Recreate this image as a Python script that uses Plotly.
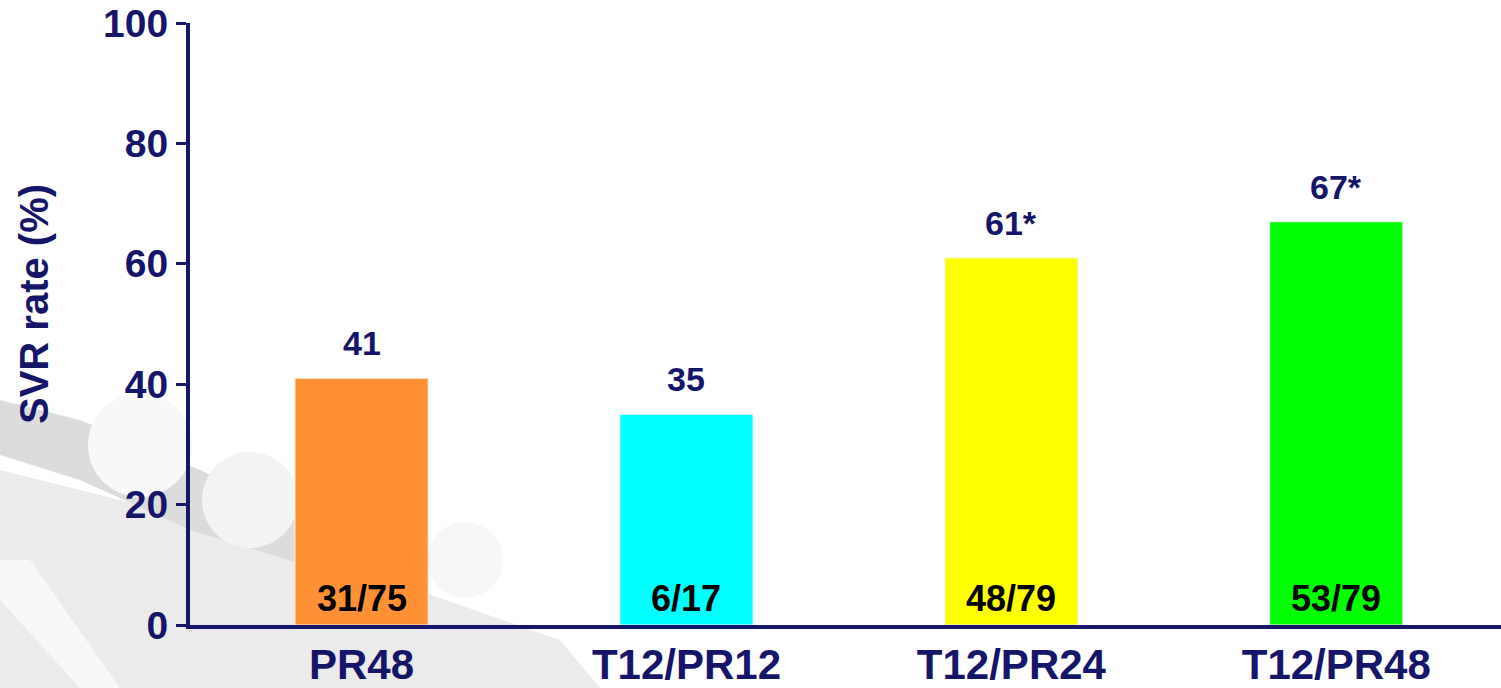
import plotly.graph_objects as go

# Treatment arms and SVR outcomes
arms = ["PR48", "T12/PR12", "T12/PR24", "T12/PR48"]
svr_rate = [41, 35, 61, 67]
rate_labels = ["41", "35", "61*", "67*"]
responders = ["31/75", "6/17", "48/79", "53/79"]
bar_colors = ["#FF9033", "#00FFFF", "#FFFF00", "#00FF00"]
y_ticks = [0, 20, 40, 60, 80, 100]

NAVY = "#15156A"
FONT = "Arial, Liberation Sans, sans-serif"

W, H = 1501, 688
ML, MR, MT, MB = 190, 0, 23, 63
PW, PH = W - ML - MR, H - MT - MB


def px(x, y):
    """Pixel position on the page -> paper coordinates."""
    return (x - ML) / PW, (H - MB - y) / PH


def poly(points):
    pts = [px(x, y) for x, y in points]
    return "M " + " L ".join(f"{a:.4f},{b:.4f}" for a, b in pts) + " Z"


fig = go.Figure()

fig.add_trace(go.Bar(
    x=arms,
    y=svr_rate,
    width=0.41,
    marker=dict(color=bar_colors, line=dict(color="#F4F4F4", width=1)),
    hoverinfo="x+y",
))

annotations = []
for arm, rate, lab, frac in zip(arms, svr_rate, rate_labels, responders):
    annotations.append(dict(
        x=arm, y=rate, xref="x", yref="y", text=f"<b>{lab}</b>",
        showarrow=False, yanchor="bottom", yshift=14,
        font=dict(family=FONT, size=34, color=NAVY),
    ))
    annotations.append(dict(
        x=arm, y=0, xref="x", yref="y", text=f"<b>{frac}</b>",
        showarrow=False, yanchor="bottom", yshift=4,
        font=dict(family=FONT, size=36, color="#000000"),
    ))

# y-axis title, placed as a rotated label left of the tick labels
tx, ty = px(34, 304)
annotations.append(dict(
    x=tx, y=ty, xref="paper", yref="paper", text="<b>SVR rate (%)</b>",
    textangle=-90, showarrow=False, xanchor="center", yanchor="middle",
    font=dict(family=FONT, size=40, color=NAVY),
))

# soft grey backdrop artwork in the lower-left corner
backdrop = [
    dict(points=[(0, 470), (120, 500), (330, 560), (560, 640), (600, 688), (0, 688)],
         color="#EBEBEB"),
    dict(points=[(0, 400), (80, 420), (200, 470), (305, 520), (305, 565), (190, 530),
                 (80, 480), (0, 455)], color="#DCDCDC"),
    dict(points=[(0, 560), (30, 560), (120, 688), (80, 688), (0, 600)], color="#F8F8F8"),
]
shapes = []
for b in backdrop:
    shapes.append(dict(type="path", path=poly(b["points"]), xref="paper", yref="paper",
                       fillcolor=b["color"], line=dict(width=0), layer="below"))
for cx, cy, r, col in [(140, 445, 52, "#F8F8F8"), (250, 500, 48, "#F3F3F3"),
                       (465, 560, 38, "#F7F7F7")]:
    x0, y0 = px(cx - r, cy - r)
    x1, y1 = px(cx + r, cy + r)
    shapes.append(dict(type="circle", xref="paper", yref="paper", x0=x0, y0=y0,
                       x1=x1, y1=y1, fillcolor=col, line=dict(width=0), layer="below"))

fig.update_layout(
    width=W, height=H,
    margin=dict(l=ML, r=MR, t=MT, b=MB, pad=0, autoexpand=False),
    paper_bgcolor="white",
    plot_bgcolor="rgba(0,0,0,0)",
    showlegend=False,
    annotations=annotations,
    shapes=shapes,
    font=dict(family=FONT, color=NAVY),
    xaxis=dict(
        type="category",
        range=[-0.528, 3.507],
        automargin=False,
        showline=True, linecolor=NAVY, linewidth=4,
        ticks="", showgrid=False, zeroline=False,
        tickfont=dict(family=FONT, size=42, color=NAVY),
        tickprefix="<b>", ticksuffix="</b>",
        ticklabelstandoff=0,
    ),
    yaxis=dict(
        range=[0, 100],
        automargin=False,
        tickvals=y_ticks,
        ticktext=[f"<b>{t}</b>" for t in y_ticks],
        showline=True, linecolor=NAVY, linewidth=4,
        ticks="outside", ticklen=10, tickwidth=3, tickcolor=NAVY,
        showgrid=False, zeroline=False,
        tickfont=dict(family=FONT, size=39, color=NAVY),
        ticklabelstandoff=0,
    ),
)

fig.write_html("out.html")
